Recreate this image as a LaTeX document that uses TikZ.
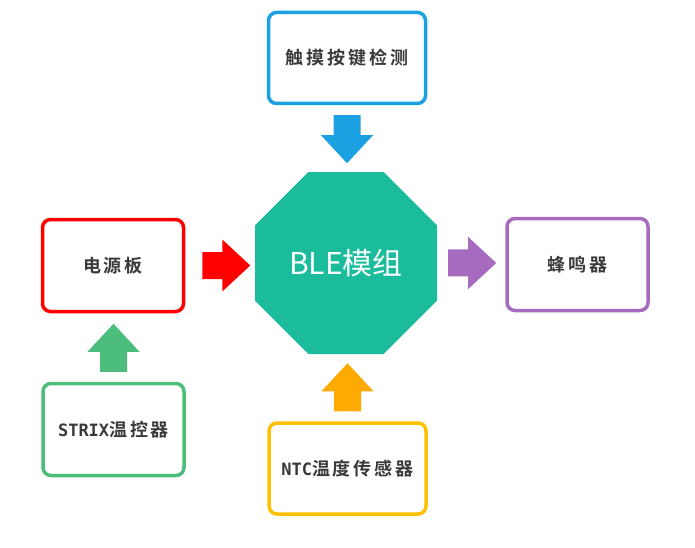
\documentclass[tikz,border=0pt]{standalone}
\usepackage{fontspec}
\usetikzlibrary{calc,positioning,shapes.geometric}
\newfontfamily\boxfont[LetterSpace=16]{Noto Sans CJK SC Bold}
\newfontfamily\latinfont{DejaVu Sans Mono Bold}
\newfontfamily\blefont{Noto Sans CJK SC}
\definecolor{BoxBlue}{HTML}{1BA1E2}
\definecolor{BoxRed}{HTML}{FF0000}
\definecolor{BoxPurple}{HTML}{A66BBE}
\definecolor{BoxGreen}{HTML}{4DBD7C}
\definecolor{BoxYellow}{HTML}{FFC000}
\definecolor{ArrowYellow}{HTML}{FFAA00}
\definecolor{BleTeal}{HTML}{1ABC9C}
\definecolor{TextGray}{HTML}{3A3A3A}

\begin{document}
\begin{tikzpicture}[x=1pt,y=1pt,
	module/.style={rounded corners=8pt, line width=3.5pt, fill=white,
		minimum width=141pt, minimum height=92pt, text=TextGray,
		font=\boxfont\fontsize{18}{18}\selectfont},
	widemodule/.style={module, minimum width=157pt, minimum height=91pt},
	fatarrow/.pic={\fill[pic actions] (0,-13.5) -- (20,-13.5) -- (20,-26) -- (48,0)
		-- (20,26) -- (20,13.5) -- (0,13.5) -- cycle;}]
	\useasboundingbox (0,0) rectangle (695,547);
	% modules
	\node[module, draw=BoxRed] (power) at (113,281.5) {电源板};
	\node[widemodule, draw=BoxBlue] (touch) at (347,489) {触摸按键检测};
	\node[module, draw=BoxPurple] (buzzer) at (577.5,282.5) {蜂鸣器};
	\node[module, draw=BoxGreen] (strix) at (113.5,117.5) {{\latinfont\fontsize{17}{17}\selectfont STRIX}温控器};
	\node[widemodule, draw=BoxYellow] (ntc) at (347.5,78.5) {{\latinfont\fontsize{17}{17}\selectfont NTC}温度传感器};
	\node[regular polygon, regular polygon sides=8, minimum size=197pt, inner sep=0pt,
		fill=BleTeal, text=white, font=\blefont\fontsize{30}{30}\selectfont]
		(ble) at (346,284) {BLE模组};
	% arrows
	\pic[fill=BoxRed] at ($(power.east)+(17,0)$) {fatarrow};
	\pic[fill=BoxBlue, rotate=-90] at ($(touch.south)+(0,-10)$) {fatarrow};
	\pic[fill=BoxPurple] at ($(ble.east)+(11,0)$) {fatarrow};
	\pic[fill=BoxGreen, rotate=90] at ($(strix.north)+(0,10)$) {fatarrow};
	\pic[fill=ArrowYellow, rotate=90] at ($(ntc.north)+(0,10)$) {fatarrow};
\end{tikzpicture}
\end{document}
